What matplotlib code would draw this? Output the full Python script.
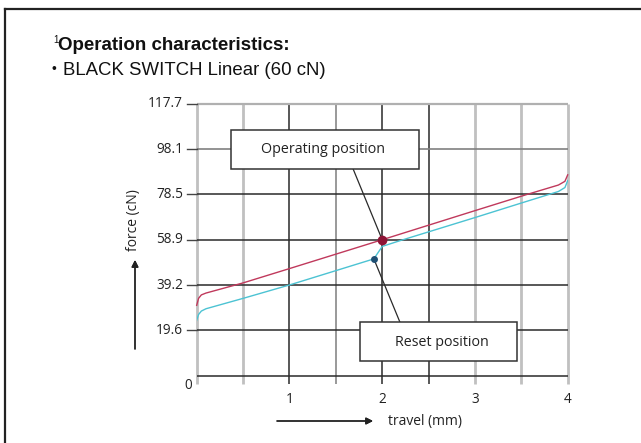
import numpy as np
import matplotlib
matplotlib.use('Agg')
import matplotlib.pyplot as plt
from matplotlib.patches import Rectangle
from matplotlib.lines import Line2D

##### Data #####

y_ticks = [0, 19.6, 39.2, 58.9, 78.5, 98.1, 117.7]
y_labels = ['', '19.6', '39.2', '58.9', '78.5', '98.1', '117.7']
x_grid = [0, 0.5, 1, 1.5, 2, 2.5, 3, 3.5, 4]
x_labels = {1: '1', 2: '2', 3: '3', 4: '4'}

# operating curve (press)
op_x = [0, 0.02, 0.05, 0.1, 0.5, 1, 2, 3, 3.56, 3.9, 3.97, 4.0]
op_y = [30.5, 33.5, 35.0, 35.8, 40.2, 46.4, 58.9, 71.5, 78.5, 82.6, 84.2, 87.0]

# reset curve (release)
rs_x = [0, 0.02, 0.05, 0.1, 0.5, 1, 1.91, 2.0, 2.2, 3, 3.5, 3.9, 3.97, 4.0]
rs_y = [24.0, 26.5, 28.0, 29.0, 33.5, 39.3, 50.6, 56.0, 58.6, 68.5, 74.8, 79.8, 81.5, 84.5]

op_pt = (2.0, 58.9)
rs_pt = (1.91, 50.6)

W, H = 641, 443

################

fig = plt.figure(figsize=(W/100, H/100), dpi=100)
fig.patch.set_facecolor('white')

# outer frame (only top and left visible)
fig.add_artist(Line2D([4.5/W, 1.0], [1-8.5/H, 1-8.5/H], color='#222222', lw=1.6))
fig.add_artist(Line2D([4.5/W, 4.5/W], [0, 1-8.5/H], color='#222222', lw=1.6))

fig.text(53/W, 1-43/H, '1', fontsize=7, family='Liberation Sans',
         va='baseline', color='#111111')
fig.text(58/W, 1-50/H, 'Operation characteristics:', fontsize=13.5,
         fontweight='bold', family='Liberation Sans', va='baseline', color='#111111')
fig.text(52/W, 1-73.5/H, '\u2022', fontsize=10, family='Liberation Sans',
         va='baseline', color='#111111')
fig.text(63/W, 1-75/H, 'BLACK SWITCH Linear (60 cN)', fontsize=13.4,
         family='Liberation Sans', va='baseline', color='#111111')

ax = fig.add_axes([196.7/W, (H-375.7)/H, 371/W, 271.7/H])
ax.set_xlim(0, 4)
ax.set_ylim(0, 117.7)
ax.axis('off')

tf = dict(family='Open Sans', color='#222222')

# vertical grid
for x in x_grid:
    if x in (1, 2, 2.5):
        c, lw = '#2a2a2a', 1.1
    elif x == 1.5:
        c, lw = '#999999', 1.4
    else:
        c, lw = '#c0c0c0', 2.0
    ax.plot([x, x], [-3.8, 117.7], color=c, lw=lw, clip_on=False, zorder=1,
            solid_capstyle='butt')

# horizontal grid + ticks
for y, lab in zip(y_ticks, y_labels):
    if y == 117.7:
        c, lw = '#b0b0b0', 1.6
    elif y == 98.1:
        c, lw = '#808080', 1.2
    else:
        c, lw = '#2a2a2a', 1.1
    ax.plot([0, 4], [y, y], color=c, lw=lw, clip_on=False, zorder=1.5,
            solid_capstyle='butt')
    if y > 0:
        ax.plot([-0.108, 0], [y, y], color='#444444', lw=1.0, clip_on=False, zorder=1.5)
        ax.text(-0.148, y, lab, ha='right', va='center', fontsize=9.8, **tf)

ax.text(-0.095, -4.2, '0', ha='center', va='center', fontsize=9.8, **tf)
for x, lab in x_labels.items():
    ax.text(x, -10.5, lab, ha='center', va='center', fontsize=9.8, **tf)

# curves
ax.plot(rs_x, rs_y, color='#4cc3d3', lw=1.0, zorder=3)
ax.plot(op_x, op_y, color='#c0395c', lw=1.0, zorder=3.5, clip_on=False)

# leaders
ax.plot([1.686, op_pt[0]], [89.6, op_pt[1]], color='#2a2a2a', lw=0.9, zorder=4)
ax.plot([rs_pt[0], 2.19], [rs_pt[1], 23.3], color='#2a2a2a', lw=0.9, zorder=4)

ax.plot(*op_pt, 'o', color='#8e1436', ms=7, zorder=5, mec='none')
ax.plot(*rs_pt, 'o', color='#1f4f73', ms=5, zorder=5, mec='none')

# label boxes
ax.add_patch(Rectangle((0.37, 89.6), 2.03, 16.9, facecolor='white',
                       edgecolor='#333333', lw=1.1, zorder=6, clip_on=False))
ax.text(1.367, 98.0, 'Operating position', ha='center', va='center',
        fontsize=10.3, zorder=7, **tf)
ax.add_patch(Rectangle((1.76, 6.4), 1.69, 16.9, facecolor='white',
                       edgecolor='#333333', lw=1.1, zorder=6, clip_on=False))
ax.text(2.64, 14.3, 'Reset position', ha='center', va='center',
        fontsize=10.3, zorder=7, **tf)

# axis names with arrows
fig.text(388/W, 1-422/H, 'travel (mm)', ha='left', va='center', fontsize=10, **tf)
fig.add_artist(plt.annotate('', xy=(373, H-421), xytext=(277, H-421),
                            xycoords='figure pixels', textcoords='figure pixels',
                            arrowprops=dict(arrowstyle='-|>', color='#222222', lw=1.0,
                                            mutation_scale=10, shrinkA=0, shrinkB=0)))
fig.text(133/W, 1-220/H, 'force (cN)', ha='center', va='center', rotation=90,
         fontsize=10, **tf)
fig.add_artist(plt.annotate('', xy=(135, H-260), xytext=(135, H-349),
                            xycoords='figure pixels', textcoords='figure pixels',
                            arrowprops=dict(arrowstyle='-|>', color='#222222', lw=1.0,
                                            mutation_scale=10, shrinkA=0, shrinkB=0)))

fig.savefig('out.png', dpi=100)
